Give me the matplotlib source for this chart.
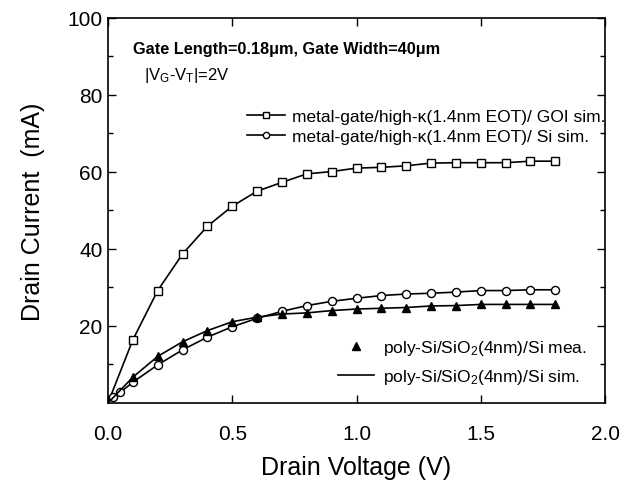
import numpy as np
import matplotlib
matplotlib.use('Agg')
import matplotlib.pyplot as plt
from matplotlib.lines import Line2D

plt.rcParams['font.family'] = ['Liberation Sans', 'DejaVu Sans']
plt.rcParams['mathtext.fontset'] = 'custom'
plt.rcParams['mathtext.rm'] = 'Liberation Sans'
plt.rcParams['mathtext.it'] = 'Liberation Sans:italic'
plt.rcParams['mathtext.bf'] = 'Liberation Sans:bold'

# metal-gate/high-k GOI sim (squares)
v_goi = [0.0, 0.1, 0.2, 0.3, 0.4, 0.5, 0.6, 0.7, 0.8, 0.9, 1.0, 1.1, 1.2, 1.3, 1.4, 1.5, 1.6, 1.7, 1.8]
i_goi = [0.0, 16.4, 29.2, 38.7, 45.9, 51.1, 55.0, 57.3, 59.5, 60.1, 61.0, 61.2, 61.6, 62.3, 62.4, 62.4, 62.4, 62.8, 62.8]

# metal-gate/high-k Si sim (circles)
v_si = [0.02, 0.05, 0.1, 0.2, 0.3, 0.4, 0.5, 0.6, 0.7, 0.8, 0.9, 1.0, 1.1, 1.2, 1.3, 1.4, 1.5, 1.6, 1.7, 1.8]
i_si = [1.5, 2.8, 5.4, 9.9, 13.8, 17.1, 19.8, 22.0, 23.8, 25.3, 26.4, 27.2, 27.9, 28.3, 28.5, 28.8, 29.2, 29.2, 29.4, 29.4]

# poly-Si/SiO2 measured (triangles) and simulated (line)
v_mea = [0.1, 0.2, 0.3, 0.4, 0.5, 0.6, 0.7, 0.8, 0.9, 1.0, 1.1, 1.2, 1.3, 1.4, 1.5, 1.6, 1.7, 1.8]
i_mea = [6.7, 12.1, 15.9, 18.8, 21.1, 22.3, 23.1, 23.4, 24.0, 24.4, 24.6, 24.8, 25.2, 25.3, 25.6, 25.6, 25.6, 25.6]
v_sim = [0.0, 0.1, 0.2, 0.3, 0.4, 0.5, 0.6, 0.7, 0.8, 0.9, 1.0, 1.1, 1.2, 1.3, 1.4, 1.5, 1.6, 1.7, 1.8]
i_sim = [0.0, 6.7, 12.1, 15.9, 18.8, 21.1, 22.3, 23.1, 23.4, 24.0, 24.4, 24.6, 24.8, 25.2, 25.3, 25.6, 25.6, 25.6, 25.6]

fig = plt.figure(figsize=(6.3, 4.85), dpi=100)
ax = fig.add_axes([0.1714, 0.167, 0.789, 0.794])

ax.plot(v_goi, i_goi, color='black', lw=1.2, marker='s', ms=5.5,
        mfc='white', mec='black', mew=1.0, markevery=list(range(1, len(v_goi))))
ax.plot(v_si, i_si, color='black', lw=1.2, marker='o', ms=5.8,
        mfc='white', mec='black', mew=1.0)
ax.plot(v_sim, i_sim, color='black', lw=1.2)
ax.plot(v_mea, i_mea, ls='none', marker='^', ms=6, color='black')

ax.set_xlim(0, 2.0)
ax.set_ylim(0, 100)
ax.set_xticks([0.0, 0.5, 1.0, 1.5, 2.0])
ax.set_xticklabels(['0.0', '0.5', '1.0', '1.5', '2.0'])
ax.set_yticks([20, 40, 60, 80, 100])
ax.set_yticks([10, 30, 50, 70, 90], minor=True)
ax.tick_params(which='both', direction='in', top=True, right=True, labelsize=15, width=1.0)
ax.tick_params(which='major', length=6)
ax.tick_params(which='minor', length=3.5)
ax.tick_params(axis='x', which='major', pad=15)
ax.tick_params(axis='y', which='major', pad=4)
for s in ax.spines.values():
    s.set_linewidth(1.2)

ax.set_xlabel('Drain Voltage (V)', fontsize=18, labelpad=9)
ax.set_ylabel('Drain Current  (mA)', fontsize=18, labelpad=16)

ax.text(0.05, 0.92, 'Gate Length=0.18\u03bcm, Gate Width=40\u03bcm', transform=ax.transAxes,
        fontsize=11.7, fontweight='bold', va='center', ha='left')
ax.text(0.072, 0.853, r'|V$_\mathrm{G}$-V$_\mathrm{T}$|=2V', transform=ax.transAxes,
        fontsize=12, va='center', ha='left')

h_goi = Line2D([], [], color='black', lw=1.2, marker='s', ms=4.5, mfc='white', mec='black')
h_si = Line2D([], [], color='black', lw=1.2, marker='o', ms=4.5, mfc='white', mec='black')
leg1 = ax.legend([h_goi, h_si],
                 ['metal-gate/high-\u03ba(1.4nm EOT)/ GOI sim.',
                  'metal-gate/high-\u03ba(1.4nm EOT)/ Si sim.'],
                 loc='center left', bbox_to_anchor=(0.28, 0.718), frameon=False,
                 fontsize=12.5, handlelength=2.2, handletextpad=0.4,
                 labelspacing=0.25, borderpad=0, borderaxespad=0)
ax.add_artist(leg1)

h_mea = Line2D([], [], ls='none', marker='^', ms=6, color='black')
h_sim = Line2D([], [], color='black', lw=1.2)
ax.legend([h_mea, h_sim],
          [r'poly-Si/SiO$_2$(4nm)/Si mea.', r'poly-Si/SiO$_2$(4nm)/Si sim.'],
          loc='center left', bbox_to_anchor=(0.462, 0.106), frameon=False,
          fontsize=12.5, handlelength=2.1, handletextpad=0.5,
          labelspacing=0.55, borderpad=0, borderaxespad=0)

fig.savefig('out.png', dpi=100)
